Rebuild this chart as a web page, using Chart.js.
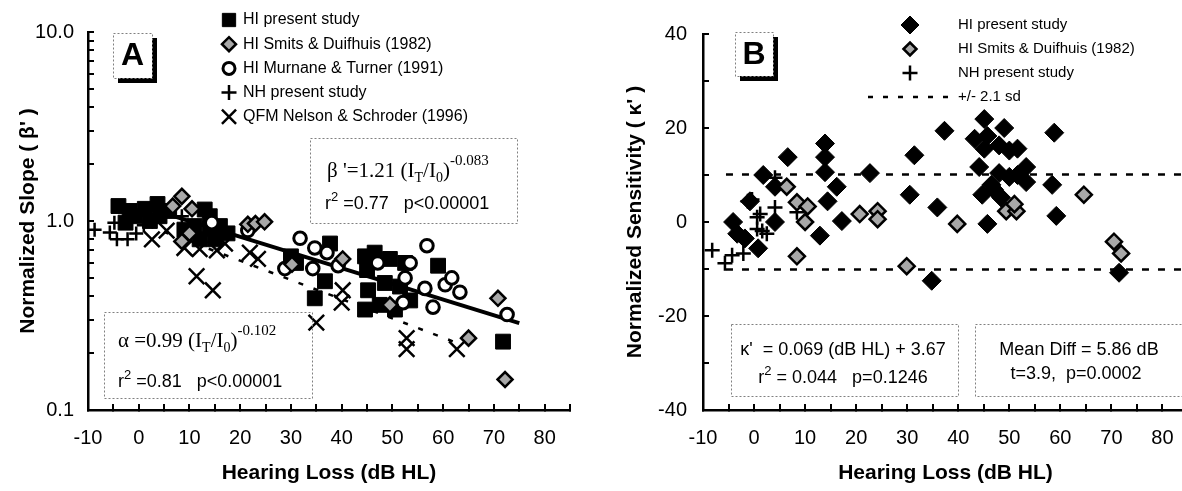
<!DOCTYPE html>
<html>
<head>
<meta charset="utf-8">
<script src="https://cdn.jsdelivr.net/npm/chart.js@4.4.1/dist/chart.umd.min.js"></script>
<style>
  html, body { margin: 0; padding: 0; background: #fff; overflow: hidden; }
  #wrap { position: relative; width: 1182px; height: 491px; overflow: hidden; }
  canvas { position: absolute; top: 0; }
  #slopeChart { left: 0; }
  #sensChart { left: 600px; }
</style>
</head>
<body>
<div id="wrap">
  <canvas id="slopeChart" width="600" height="491"></canvas>
  <canvas id="sensChart" width="640" height="491"></canvas>
</div>
<script>
// ---- Panel A: normalized slope vs hearing loss [dB HL, slope] ----
const aHiPresent = [[-4, 1.2], [-1.8, 1.13], [-2.6, 0.98], [-0.8, 1.06], [1.2, 1.16], [2.2, 1.0], [3.7, 1.23],
  [4.1, 1.06], [6, 1.13], [9, 0.9], [11, 0.94], [12, 0.8], [13, 1.15], [14, 0.91], [14, 1.06], [15, 0.8], [16, 0.94],
  [17.5, 0.86], [30, 0.65], [31, 0.6], [34.7, 0.39], [36.7, 0.48], [37.7, 0.76], [44.6, 0.65], [46.5, 0.68],
  [49.5, 0.63], [52.5, 0.6], [45, 0.55], [45.2, 0.43], [47.5, 0.36], [50.5, 0.34], [44.6, 0.34], [53.5, 0.38],
  [51.5, 0.45], [48.5, 0.47], [59, 0.58], [71.8, 0.23]];
const aSmits = [[8.5, 1.35], [6.7, 1.2], [10.5, 1.16], [10, 0.86], [8.5, 0.78], [21.5, 0.96], [23, 0.97],
  [24.8, 0.99], [30.2, 0.59], [40.2, 0.63], [49.5, 0.36], [65, 0.24], [70.8, 0.39], [72.2, 0.145]];
const aMurnane = [[14.4, 0.98], [21.5, 0.89], [28.8, 0.56], [31.8, 0.81], [34.3, 0.56], [34.7, 0.72], [37.1, 0.68],
  [39.3, 0.58], [47.1, 0.6], [52.1, 0.37], [52.5, 0.5], [53.5, 0.6], [56.4, 0.44], [56.8, 0.74], [58, 0.35],
  [60.4, 0.46], [61.7, 0.5], [63.3, 0.42], [72.6, 0.32]];
const aNormal = [[-8.7, 0.9], [-5.7, 0.87], [-4.8, 0.98], [-4.3, 0.8], [-2.2, 0.8], [-0.5, 0.86], [1, 0.95], [8.5, 1.06]];
const aQfm = [[2.6, 0.8], [5.5, 0.89], [9, 0.72], [11.4, 0.51], [12, 0.71], [14.6, 0.43], [15.4, 0.7], [17, 0.76],
  [21.9, 0.68], [23.5, 0.63], [35, 0.29], [40, 0.37], [40.2, 0.43], [52.8, 0.24], [52.8, 0.21], [62.7, 0.21]];
const aFitHI = [[0, 1.21], [75, 0.288]];
const aFitQfm = [[2, 0.94], [63, 0.225]];
const aLogTicks = [0.1, 0.2, 0.3, 0.4, 0.5, 0.6, 0.7, 0.8, 0.9, 1, 2, 3, 4, 5, 6, 7, 8, 9, 10];

// ---- Panel B: normalized sensitivity vs hearing loss [dB HL, kappa'] ----
const bHiPresent = [[-4.1, 0], [-3.3, -2.5], [-1.8, -3.5], [0.8, -5.6], [-0.8, 4.4], [1.8, 10], [4.1, 7.5], [4.1, 0],
  [6.6, 13.8], [12.9, -2.9], [13.9, 16.7], [13.9, 13.8], [13.9, 10.6], [14.4, 4.4], [16.2, 7.5], [17.2, 0.2],
  [22.7, 10.4], [30.5, 5.8], [31.4, 14.2], [34.8, -12.5], [35.9, 3.1], [37.3, 19.4], [43.2, 17.7], [44.1, 11.7],
  [44.7, 5.8], [45.1, 21.9], [45.1, 15.6], [45.7, 18.3], [45.7, -0.4], [46.5, 7.9], [47, 6.9], [48, 16.3], [48, 10.4],
  [48.4, 5.2], [49, 20], [50, 15.2], [50, 9.6], [51.6, 15.6], [51.6, 10], [53.3, 11.7], [53.3, 8.5], [58.4, 7.9],
  [58.8, 19], [59.2, 1.3], [71.5, -10.8]];
const bSmits = [[6.4, 7.5], [8.4, 4.2], [8.4, -7.3], [10, 0], [10.5, 3.3], [20.7, 1.7], [24.2, 2.3], [24.2, 0.6],
  [29.9, -9.4], [39.8, -0.4], [49.4, 2.3], [51.4, 2.3], [51, 3.8], [64.6, 5.8], [70.5, -4.2], [71.9, -6.7]];
const bNormal = [[-8.2, -6], [-5.7, -8.8], [-4.3, -7.1], [-2.1, -6.7], [-1.2, 4.4], [-0.4, 4.8], [0.6, 1], [1.2, 1.7],
  [0.6, -1.5], [1.6, -1.9], [2.5, -2.5], [4.1, 3.1], [4.1, 9.4], [8.4, 2.1]];
const bSdUpper = [[-5.5, 10.1], [85, 10.1]];
const bSdLower = [[-5.5, -10.1], [85, -10.1]];

const SANS = "'Liberation Sans', Arial, sans-serif";
const SERIF = "'Liberation Serif', 'Times New Roman', serif";
const GRAY = '#a8a8a8';

const pts = arr => arr.map(p => ({ x: p[0], y: p[1] }));

function xAxis() {
    return {
        type: 'linear', min: -10, max: 85,
        border: { display: true, color: '#000', width: 2.5 },
        grid: { display: true, drawOnChartArea: false, drawTicks: true, tickLength: -6, color: '#000', lineWidth: 2 },
        ticks: {
            stepSize: 5, autoSkip: false, maxRotation: 0, padding: 22, color: '#000',
            font: { family: SANS, size: 20 },
            callback: v => (v % 10 === 0 && v <= 80) ? String(v) : ''
        },
        title: { display: true, text: 'Hearing Loss (dB HL)', color: '#000', padding: { top: 0, bottom: 5 },
            font: { family: SANS, size: 21, weight: 'bold' } },
        afterFit: s => { s.height = 81; }
    };
}

function marker(ctx, style, r, fill, stroke, bw, x, y) {
    ctx.save();
    ctx.fillStyle = fill;
    ctx.strokeStyle = stroke;
    ctx.lineWidth = bw;
    Chart.helpers.drawPoint(ctx, { pointStyle: style, radius: r, rotation: 0, borderWidth: bw }, x, y);
    ctx.restore();
}

function runs(ctx, x, y, parts, align) {
    let w = 0;
    parts.forEach(p => { ctx.font = p[1]; w += ctx.measureText(p[0]).width; });
    let cx = align === 'center' ? x - w / 2 : x;
    ctx.textAlign = 'left';
    ctx.textBaseline = 'alphabetic';
    parts.forEach(p => {
        ctx.font = p[1];
        ctx.fillText(p[0], cx, y + (p[2] || 0));
        cx += ctx.measureText(p[0]).width;
    });
}

function dottedBox(ctx, x, y, w, h) {
    ctx.save();
    ctx.strokeStyle = '#808080';
    ctx.lineWidth = 1;
    ctx.setLineDash([2, 2]);
    ctx.strokeRect(x + 0.5, y + 0.5, w, h);
    ctx.restore();
}

function panelLabel(ctx, x, y, w, h, letter) {
    ctx.save();
    ctx.fillStyle = '#000';
    ctx.fillRect(x + 5, y + 5, w, h);
    ctx.fillStyle = '#fff';
    ctx.fillRect(x, y, w, h);
    ctx.restore();
    dottedBox(ctx, x, y, w, h);
    ctx.save();
    ctx.fillStyle = '#000';
    ctx.font = 'bold 32px ' + SANS;
    ctx.textAlign = 'center';
    ctx.textBaseline = 'middle';
    ctx.fillText(letter, x + w / 2, y + h / 2 + 1);
    ctx.restore();
}

function slopeNotes(chart) {
    const ctx = chart.ctx;
    ctx.save();
    ctx.fillStyle = '#000';
    panelLabel(ctx, 113, 33, 39, 45, 'A');

    // legend
    const legend = [
        ['rect', 9.4, '#000', '#000', 1, 'HI present study'],
        ['rectRot', 7, GRAY, '#000', 2.5, 'HI Smits & Duifhuis (1982)'],
        ['circle', 6, '#fff', '#000', 3, 'HI Murnane & Turner (1991)'],
        ['cross', 7.5, '#000', '#000', 2.5, 'NH present study'],
        ['crossRot', 10, '#000', '#000', 2.5, 'QFM Nelson & Schroder (1996)']
    ];
    legend.forEach((l, i) => {
        const y = 20 + i * 24.2;
        marker(ctx, l[0], l[1], l[2], l[3], l[4], 229, y);
        ctx.fillStyle = '#000';
        ctx.font = '16px ' + SANS;
        ctx.textAlign = 'left';
        ctx.textBaseline = 'middle';
        ctx.fillText(l[5], 243, y);
    });

    // regression boxes
    const big = '21px ' + SERIF, sub = '14px ' + SERIF, sup = '15px ' + SERIF;
    const sans = '18px ' + SANS, sans2 = '13px ' + SANS;
    ctx.fillStyle = '#fff';
    ctx.fillRect(310, 138, 207, 85);
    dottedBox(ctx, 310, 138, 207, 85);
    ctx.fillStyle = '#000';
    runs(ctx, 327, 177, [["\u03B2 '=1.21 (I", big], ['T', sub, 5], ['/I', big], ['0', sub, 5], [')', big], ['-0.083', sup, -12]]);
    runs(ctx, 325, 209, [['r', sans], ['2', sans2, -8], [' =0.77   p<0.00001', sans]]);

    dottedBox(ctx, 104, 312, 208, 86);
    runs(ctx, 118, 347, [['\u03B1 =0.99 (I', big], ['T', sub, 5], ['/I', big], ['0', sub, 5], [')', big], ['-0.102', sup, -12]]);
    runs(ctx, 118, 387, [['r', sans], ['2', sans2, -8], [' =0.81   p<0.00001', sans]]);
    ctx.restore();
}

function sensNotes(chart) {
    const ctx = chart.ctx;
    const ox = 600;
    ctx.save();
    panelLabel(ctx, 735 - ox, 32, 38, 44, 'B');

    const legend = [
        ['rectRot', 9, '#000', '#000', 1, 'HI present study'],
        ['rectRot', 6.5, GRAY, '#000', 2.5, 'HI Smits & Duifhuis (1982)'],
        ['cross', 7.5, '#000', '#000', 2.5, 'NH present study']
    ];
    legend.forEach((l, i) => {
        const y = 25 + i * 24;
        marker(ctx, l[0], l[1], l[2], l[3], l[4], 910 - ox, y);
        ctx.fillStyle = '#000';
        ctx.font = '15px ' + SANS;
        ctx.textAlign = 'left';
        ctx.textBaseline = 'middle';
        ctx.fillText(l[5], 958 - ox, y);
    });
    ctx.save();
    ctx.strokeStyle = '#000';
    ctx.lineWidth = 2.5;
    ctx.setLineDash([5, 10]);
    ctx.beginPath();
    ctx.moveTo(868 - ox, 97);
    ctx.lineTo(952 - ox, 97);
    ctx.stroke();
    ctx.restore();
    ctx.fillStyle = '#000';
    ctx.font = '15px ' + SANS;
    ctx.textAlign = 'left';
    ctx.textBaseline = 'middle';
    ctx.fillText('+/- 2.1 sd', 958 - ox, 97);

    const sans = '18px ' + SANS, sans2 = '13px ' + SANS;
    ctx.fillStyle = '#fff';
    ctx.fillRect(731 - ox, 324, 227, 72);
    ctx.fillRect(975 - ox, 324, 230, 72);
    dottedBox(ctx, 731 - ox, 324, 227, 72);
    dottedBox(ctx, 975 - ox, 324, 230, 72);
    ctx.fillStyle = '#000';
    runs(ctx, 843 - ox, 355, [["\u03BA'  = 0.069 (dB HL) + 3.67", sans]], 'center');
    runs(ctx, 843 - ox, 383, [['r', sans], ['2', sans2, -8], [' = 0.044   p=0.1246', sans]], 'center');
    runs(ctx, 1079 - ox, 355, [['Mean Diff = 5.86 dB', sans]], 'center');
    runs(ctx, 1076 - ox, 379, [['t=3.9,  p=0.0002', sans]], 'center');
    ctx.restore();
}

Chart.defaults.font.family = SANS;
Chart.defaults.color = '#000';

new Chart(document.getElementById('slopeChart'), {
    type: 'scatter',
    data: {
        datasets: [
            { label: 'HI Smits & Duifhuis (1982)', data: pts(aSmits), pointStyle: 'rectRot', pointRadius: 7.5,
              backgroundColor: GRAY, borderColor: '#000', borderWidth: 2.5 },
            { label: 'HI Murnane & Turner (1991)', data: pts(aMurnane), pointStyle: 'circle', pointRadius: 6.3,
              backgroundColor: '#fff', borderColor: '#000', borderWidth: 3 },
            { label: 'NH present study', data: pts(aNormal), pointStyle: 'cross', pointRadius: 7,
              backgroundColor: '#000', borderColor: '#000', borderWidth: 2.5 },
            { label: 'QFM Nelson & Schroder (1996)', data: pts(aQfm), pointStyle: 'crossRot', pointRadius: 11,
              backgroundColor: '#000', borderColor: '#000', borderWidth: 2.5 },
            { label: 'HI present study', data: pts(aHiPresent), pointStyle: 'rect', pointRadius: 10.5,
              backgroundColor: '#000', borderColor: '#000', borderWidth: 1 },
            { label: 'fit HI', data: pts(aFitHI), showLine: true, pointRadius: 0,
              borderColor: '#000', borderWidth: 4 },
            { label: 'fit QFM', data: pts(aFitQfm), showLine: true, pointRadius: 0,
              borderColor: '#000', borderWidth: 2.5, borderDash: [5, 11] }
        ]
    },
    options: {
        responsive: false,
        animation: false,
        events: [],
        layout: { padding: { left: 0, top: 31, right: 30, bottom: 0 } },
        plugins: { legend: { display: false }, tooltip: { enabled: false } },
        scales: {
            x: xAxis(),
            y: {
                type: 'logarithmic', min: 0.1, max: 10,
                border: { display: true, color: '#000', width: 2.5 },
                grid: { display: true, drawOnChartArea: false, drawTicks: true, tickLength: -6, color: '#000', lineWidth: 2 },
                afterBuildTicks: s => { s.ticks = aLogTicks.map(v => ({ value: v })); },
                ticks: {
                    autoSkip: false, padding: 20, color: '#000', font: { family: SANS, size: 20 },
                    callback: v => v === 10 ? '10.0' : v === 1 ? '1.0' : v === 0.1 ? '0.1' : ''
                },
                title: { display: true, text: "Normalized Slope ( \u03B2' )", color: '#000', padding: { top: 16, bottom: 0 },
                    font: { family: SANS, size: 21, weight: 'bold' } },
                afterFit: s => { s.width = 88; }
            }
        }
    },
    plugins: [{ id: 'slopeNotes', afterDraw: slopeNotes }]
});

new Chart(document.getElementById('sensChart'), {
    type: 'scatter',
    data: {
        datasets: [
            { label: 'HI Smits & Duifhuis (1982)', data: pts(bSmits), pointStyle: 'rectRot', pointRadius: 8,
              backgroundColor: GRAY, borderColor: '#000', borderWidth: 2.5 },
            { label: 'NH present study', data: pts(bNormal), pointStyle: 'cross', pointRadius: 7.5,
              backgroundColor: '#000', borderColor: '#000', borderWidth: 2.5 },
            { label: 'HI present study', data: pts(bHiPresent), pointStyle: 'rectRot', pointRadius: 9.5,
              backgroundColor: '#000', borderColor: '#000', borderWidth: 1 },
            { label: '+2.1 sd', data: pts(bSdUpper), showLine: true, pointRadius: 0,
              borderColor: '#000', borderWidth: 2.5, borderDash: [7, 9] },
            { label: '-2.1 sd', data: pts(bSdLower), showLine: true, pointRadius: 0,
              borderColor: '#000', borderWidth: 2.5, borderDash: [7, 9] }
        ]
    },
    options: {
        responsive: false,
        animation: false,
        events: [],
        layout: { padding: { left: 0, top: 26, right: 52, bottom: 0 } },
        plugins: { legend: { display: false }, tooltip: { enabled: false } },
        scales: {
            x: xAxis(),
            y: {
                type: 'linear', min: -40, max: 40,
                border: { display: true, color: '#000', width: 2.5 },
                grid: { display: true, drawOnChartArea: false, drawTicks: true, tickLength: -6, color: '#000', lineWidth: 2 },
                ticks: {
                    stepSize: 10, autoSkip: false, padding: 22, color: '#000', font: { family: SANS, size: 20 },
                    callback: v => v % 20 === 0 ? String(v) : ''
                },
                title: { display: true, text: "Normalized Sensitivity ( \u03BA' )", color: '#000', padding: { top: 23, bottom: 0 },
                    font: { family: SANS, size: 21, weight: 'bold' } },
                afterFit: s => { s.width = 103; }
            }
        }
    },
    plugins: [{ id: 'sensNotes', afterDraw: sensNotes }]
});
</script>
</body>
</html>
